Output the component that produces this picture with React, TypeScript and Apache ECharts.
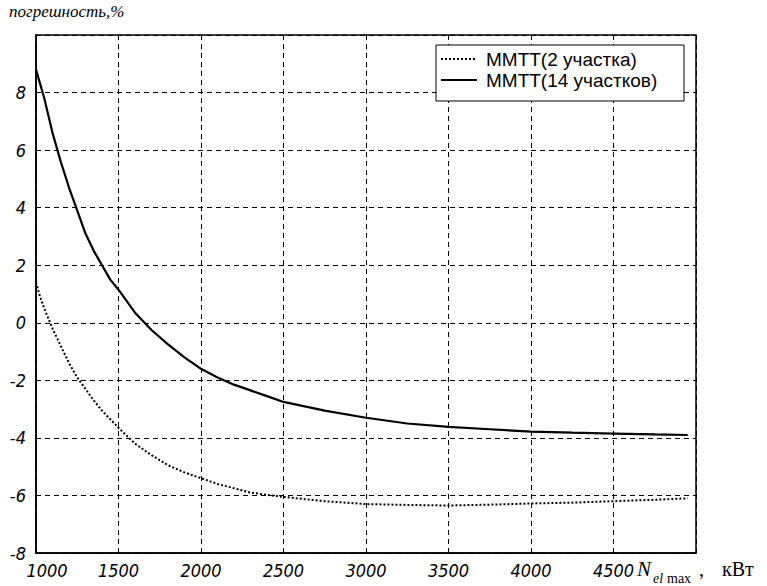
import React, { useEffect, useRef } from "react";
import * as echarts from "echarts";

// N_el max, кВт
const nValues = [1000, 1025, 1050, 1100, 1150, 1200, 1250, 1300, 1350, 1400, 1450, 1500, 1600, 1700, 1800, 1900, 2000, 2100, 2200, 2300, 2400, 2500, 2750, 3000, 3250, 3500, 3750, 4000, 4250, 4500, 4750, 4950];
// ММТТ(14 участков)
const err14 = [8.8, 8.3, 7.8, 6.6, 5.6, 4.7, 3.9, 3.1, 2.5, 2.0, 1.5, 1.15, 0.35, -0.25, -0.75, -1.2, -1.6, -1.9, -2.15, -2.35, -2.55, -2.75, -3.05, -3.3, -3.5, -3.62, -3.7, -3.78, -3.82, -3.85, -3.88, -3.9];
// ММТТ(2 участка)
const err2 = [1.4, 0.9, 0.5, -0.2, -0.8, -1.4, -1.9, -2.3, -2.7, -3.05, -3.35, -3.65, -4.2, -4.6, -4.95, -5.2, -5.4, -5.6, -5.75, -5.9, -5.98, -6.05, -6.2, -6.3, -6.33, -6.35, -6.32, -6.28, -6.25, -6.2, -6.15, -6.1];

const seriesNames = ["ММТТ(2 участка)", "ММТТ(14 участков)"];
const yTitle = "погрешность,%";

const tickFont = "'Liberation Sans Narrow', 'DejaVu Sans Condensed', 'Liberation Sans', sans-serif";
const legendFont = "19px 'Liberation Sans', Arial, sans-serif";

export default function App() {
  const ref = useRef<HTMLDivElement>(null);
  useEffect(() => {
    if (!ref.current) return;
    const chart = echarts.init(ref.current, null, { renderer: "svg" });
    const pair = (ys: number[]) => nValues.map((x, i) => [x, ys[i]]);
    chart.setOption({
      animation: false,
      backgroundColor: "#fff",
      grid: { left: 36, right: 71, top: 35, bottom: 33, show: true, borderColor: "#000", borderWidth: 1.5, backgroundColor: "transparent" },
      xAxis: {
        type: "value", min: 1000, max: 5000, interval: 500,
        axisLine: { show: true, onZero: false, lineStyle: { color: "#000", width: 1.5 } },
        axisTick: { show: true, inside: true, length: 5, lineStyle: { color: "#000" } },
        axisLabel: {
          color: "#000", fontFamily: tickFont, fontStyle: "italic", fontSize: 18, margin: 8,
          formatter: (v: number) => (v === 5000 ? "" : v === 1000 ? "{first|1000}" : String(v)),
          rich: { first: { color: "#000", fontFamily: tickFont, fontStyle: "italic", fontSize: 18, padding: [0, 0, 0, 22] } },
        },
        splitLine: { show: true, lineStyle: { color: "#000", type: [5, 4], width: 1 } },
      },
      yAxis: {
        type: "value", min: -8, max: 10, interval: 2,
        axisLine: { show: true, onZero: false, lineStyle: { color: "#000", width: 1.5 } },
        axisTick: { show: true, inside: true, length: 5, lineStyle: { color: "#000" } },
        axisLabel: {
          color: "#000", fontFamily: tickFont, fontStyle: "italic", fontSize: 18, margin: 10,
          formatter: (v: number) => (v === 10 ? "" : String(v)),
        },
        splitLine: { show: true, lineStyle: { color: "#000", type: [5, 4], width: 1 } },
      },
      graphic: [
        { type: "text", left: 9, top: 3, style: { text: yTitle, font: "italic 17px 'Liberation Serif'", fill: "#000" } },
        { type: "text", x: 637, y: 579, style: { text: "N", font: "italic 21px 'Liberation Serif'", fill: "#000", verticalAlign: "bottom" } },
        { type: "text", x: 653, y: 585, style: { text: "el", font: "italic 14px 'Liberation Serif'", fill: "#000", verticalAlign: "bottom" } },
        { type: "text", x: 667, y: 585, style: { text: "max", font: "14px 'Liberation Serif'", fill: "#000", verticalAlign: "bottom" } },
        { type: "text", x: 699, y: 579, style: { text: ",", font: "20px 'Liberation Serif'", fill: "#000", verticalAlign: "bottom" } },
        { type: "text", x: 722, y: 579, style: { text: "кВт", font: "20px 'Liberation Serif'", fill: "#000", verticalAlign: "bottom" } },
        // legend box
        { type: "rect", z: 10, shape: { x: 436, y: 45, width: 248, height: 56 }, style: { fill: "#fff", stroke: "#000", lineWidth: 1 } },
        { type: "line", z: 11, shape: { x1: 441, y1: 59, x2: 477, y2: 59 }, style: { stroke: "#000", lineWidth: 2, lineDash: [2, 2] } },
        { type: "line", z: 11, shape: { x1: 441, y1: 80, x2: 477, y2: 80 }, style: { stroke: "#000", lineWidth: 2 } },
        { type: "text", z: 11, x: 486, y: 59, style: { text: seriesNames[0], font: legendFont, fill: "#000", verticalAlign: "middle" } },
        { type: "text", z: 11, x: 486, y: 80, style: { text: seriesNames[1], font: legendFont, fill: "#000", verticalAlign: "middle" } },
      ],
      series: [
        { name: seriesNames[0], type: "line", data: pair(err2), symbol: "none", showSymbol: false, lineStyle: { color: "#000", width: 2, type: [2, 2] }, itemStyle: { color: "#000" } },
        { name: seriesNames[1], type: "line", data: pair(err14), symbol: "none", showSymbol: false, lineStyle: { color: "#000", width: 2.2 }, itemStyle: { color: "#000" } },
      ],
    });
    return () => chart.dispose();
  }, []);
  return <div ref={ref} style={{ position: "fixed", left: 0, top: 0, width: 767, height: 586 }} />;
}
